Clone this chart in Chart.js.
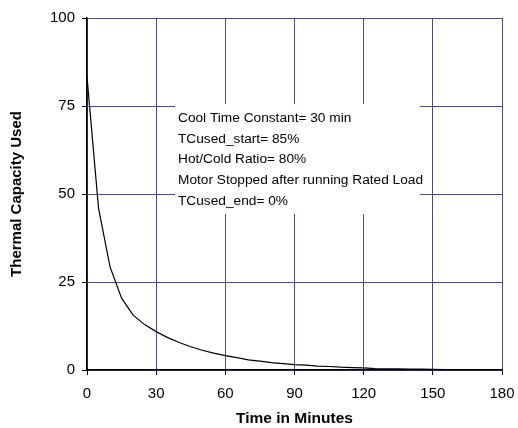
<!DOCTYPE html>
<html>
<head>
<meta charset="utf-8">
<script src="https://cdn.jsdelivr.net/npm/chart.js@4/dist/chart.umd.min.js"></script>
<style>
  html, body { margin: 0; padding: 0; background: #fff; }
  #wrap { width: 518px; height: 428px; }
</style>
</head>
<body>
<div id="wrap"><canvas id="myChart" width="518" height="428"></canvas></div>
<script>
'use strict'

// minutes after stop
const minutes = [0, 5, 10, 15, 20, 25, 30, 35, 40, 45, 50, 55, 60, 65, 70, 75, 80, 85, 90,
  95, 100, 105, 110, 115, 120, 125, 130, 135, 140, 145, 150, 155, 160, 165, 170, 175, 180];
// thermal capacity used (%)
const tcUsed = [83.3, 46, 29.3, 20.4, 15.6, 12.9, 10.9, 9.2, 7.8, 6.6, 5.6, 4.8, 4.1, 3.5, 2.9,
  2.5, 2.1, 1.8, 1.5, 1.4, 1.1, 1.0, 0.8, 0.7, 0.6, 0.4, 0.35, 0.3, 0.27, 0.25, 0.2, 0.1, 0.1,
  0.05, 0.05, 0, 0];
const xTicks = [0, 30, 60, 90, 120, 150, 180];
const yTicks = [0, 25, 50, 75, 100];
const noteLines = [
  'Cool Time Constant= 30 min',
  'TCused_start= 85%',
  'Hot/Cold Ratio= 80%',
  'Motor Stopped after running Rated Load',
  'TCused_end= 0%'
];

const gridColor = '#4c4c88';
const font = 'Liberation Sans, Arial, sans-serif';

let points = [];
for (let i = 0; i < minutes.length; i++) {
  points.push({ x: minutes[i], y: tcUsed[i] });
}

// white note box over the grid
const notePlugin = {
  id: 'noteBox',
  beforeDatasetsDraw(chart) {
    const ctx = chart.ctx;
    ctx.save();
    ctx.fillStyle = '#fff';
    ctx.fillRect(175, 104, 245, 110);
    ctx.fillStyle = '#000';
    ctx.font = '13.7px ' + font;
    ctx.textBaseline = 'alphabetic';
    for (let i = 0; i < noteLines.length; i++) {
      ctx.fillText(noteLines[i], 178, 122 + i * 20.7);
    }
    ctx.restore();
  }
};

const config = {
  type: 'line',
  data: {
    datasets: [{
      data: points,
      borderColor: '#000',
      borderWidth: 1.2,
      pointRadius: 0,
      tension: 0,
      fill: false
    }]
  },
  options: {
    responsive: false,
    animation: false,
    layout: { padding: { top: 18, right: 16, left: 0, bottom: 0 } },
    plugins: { legend: { display: false }, tooltip: { enabled: false } },
    scales: {
      x: {
        type: 'linear',
        min: 0,
        max: 180,
        afterBuildTicks(scale) { scale.ticks = xTicks.map(v => ({ value: v })); },
        afterFit(scale) {
          scale.height = 58;
          scale.paddingLeft = 0;
          scale.paddingRight = 0;
        },
        grid: { color: gridColor, lineWidth: 1, tickLength: 5, tickColor: '#000' },
        border: { color: '#000', width: 1.5 },
        ticks: { color: '#000', font: { family: font, size: 15 }, padding: 10, maxRotation: 0 },
        title: { display: true, text: 'Time in Minutes', color: '#000',
          font: { family: font, size: 15.5, weight: 'bold' }, padding: { top: 0, bottom: 0 } }
      },
      y: {
        min: 0,
        max: 100,
        afterBuildTicks(scale) { scale.ticks = yTicks.map(v => ({ value: v })); },
        afterFit(scale) { scale.width = 87; },
        grid: { color: gridColor, lineWidth: 1, tickLength: 5, tickColor: '#000' },
        border: { color: '#000', width: 1.5 },
        ticks: { color: '#000', font: { family: font, size: 15 }, padding: 7 },
        title: { display: true, text: 'Thermal Capacity Used', color: '#000',
          font: { family: font, size: 15, weight: 'bold' }, padding: { top: 8, bottom: 0 } }
      }
    }
  },
  plugins: [notePlugin]
};

new Chart(document.getElementById('myChart'), config);
</script>
</body>
</html>
